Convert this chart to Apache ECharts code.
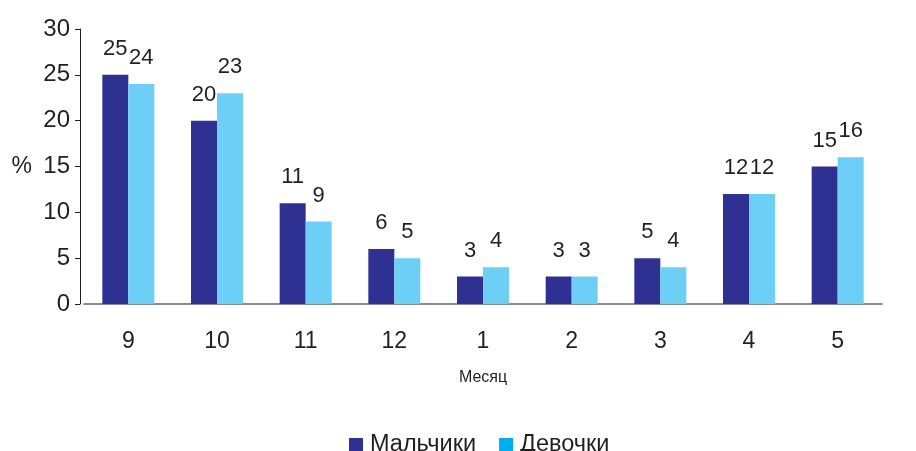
<!DOCTYPE html>
<html>
<head>
<meta charset="utf-8">
<script src="https://cdn.jsdelivr.net/npm/echarts@6/dist/echarts.min.js"></script>
<style>html,body{margin:0;padding:0;background:#fff}#c{width:916px;height:451px}</style>
</head>
<body>
<div id="c"></div>
<script>
const months = ['9', '10', '11', '12', '1', '2', '3', '4', '5'];
const boys = [25, 20, 11, 6, 3, 3, 5, 12, 15];
const girls = [24, 23, 9, 5, 4, 3, 4, 12, 16];
const seriesNames = ['Мальчики', 'Девочки'];
const yTicks = { min: 0, max: 30, interval: 5 };

const chart = echarts.init(document.getElementById('c'), null, { renderer: 'canvas' });
const font = 'Liberation Sans, Arial, sans-serif';
const label = {
  show: true, position: 'top', distance: 15,
  fontFamily: font, fontSize: 22, color: '#231f20'
};
chart.setOption({
  animation: false,
  backgroundColor: '#fff',
  grid: { left: 84, right: 34, top: 29, bottom: 147, containLabel: false },
  legend: {
    top: 428, left: 344,
    itemWidth: 14, itemHeight: 14, itemGap: 23, icon: 'rect',
    textStyle: { fontFamily: font, fontSize: 23.5, color: '#231f20', padding: [0, 0, 0, 2] },
    data: [
      { name: seriesNames[0], itemStyle: { color: '#2E3192' } },
      { name: seriesNames[1], itemStyle: { color: '#00AEEF' } }
    ]
  },
  xAxis: {
    type: 'category', data: months,
    name: 'Месяц', nameLocation: 'middle', nameGap: 66,
    nameTextStyle: { fontFamily: font, fontSize: 16, color: '#231f20' },
    axisLine: { lineStyle: { color: '#666', width: 1.5 } },
    axisTick: { show: false },
    axisLabel: { margin: 26, fontFamily: font, fontSize: 23, color: '#231f20' }
  },
  yAxis: {
    type: 'value', min: yTicks.min, max: yTicks.max, interval: yTicks.interval,
    offset: 4,
    name: '%', nameLocation: 'middle', nameRotate: 0, nameGap: 48,
    nameTextStyle: { fontFamily: font, fontSize: 23, color: '#231f20' },
    axisLine: { show: true, lineStyle: { color: '#231f20', width: 1 } },
    axisTick: { show: true, length: 5, lineStyle: { color: '#231f20' } },
    splitLine: { show: false },
    axisLabel: { margin: 10, fontFamily: font, fontSize: 24, color: '#231f20' }
  },
  series: [
    { name: seriesNames[0], type: 'bar', data: boys, barWidth: 26, barGap: '0%',
      itemStyle: { color: '#2E3192' }, label: label },
    { name: seriesNames[1], type: 'bar', data: girls, barWidth: 26, barGap: '0%',
      itemStyle: { color: '#6DCFF6' }, label: label }
  ]
});
</script>
</body>
</html>
